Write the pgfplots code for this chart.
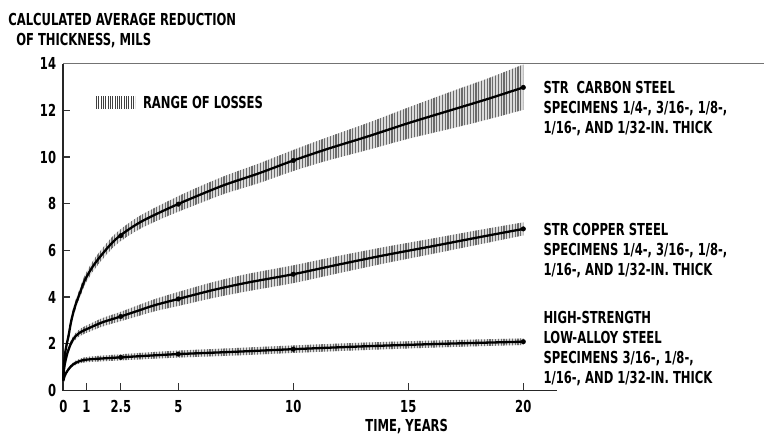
\documentclass[border=0pt]{standalone}
\usepackage{pgfplots}
\pgfplotsset{compat=1.18}
\usepackage{pgfplotstable}
\usepgfplotslibrary{fillbetween}
\usetikzlibrary{patterns.meta}
\usepackage{fontspec}
\setmainfont{DejaVu Sans Condensed}
\newfontfamily\labfam{DejaVu Sans Condensed Bold}[FakeStretch=0.78]
\newcommand\lab{\labfam\fontsize{16.5bp}{20bp}\selectfont}

\pgfplotstableread{
t m lo hi
0 0.45 0.40 0.50
0.03 1.10 1.00 1.20
0.08 1.60 1.45 1.75
0.15 2.00 1.82 2.18
0.22 2.30 2.10 2.50
0.35 3.00 2.80 3.20
0.51 3.60 3.40 3.80
0.75 4.25 4.05 4.45
0.94 4.73 4.52 4.94
1.38 5.45 5.22 5.68
2.25 6.45 6.20 6.70
3.26 7.16 6.88 7.44
4.42 7.73 7.42 8.04
5.5 8.20 7.85 8.55
7 8.80 8.42 9.18
8.5 9.30 8.88 9.72
10 9.85 9.40 10.30
11.5 10.35 9.85 10.85
13.3 10.90 10.32 11.48
15 11.45 10.78 12.12
17 12.05 11.25 12.85
18.5 12.50 11.62 13.38
20 12.98 12.02 13.96
}\carbon

\pgfplotstableread{
t m lo hi
0 0.45 0.42 0.48
0.03 0.90 0.84 0.96
0.08 1.20 1.12 1.28
0.15 1.50 1.40 1.60
0.22 1.73 1.61 1.85
0.35 2.05 1.92 2.18
0.51 2.30 2.16 2.44
0.75 2.50 2.35 2.65
1.09 2.66 2.50 2.82
1.7 2.92 2.74 3.10
2.47 3.16 2.96 3.36
3.2 3.40 3.17 3.63
4 3.66 3.40 3.92
5 3.92 3.62 4.22
6.5 4.30 3.96 4.64
8 4.62 4.25 4.99
10 4.98 4.60 5.36
12 5.40 5.03 5.77
14 5.80 5.45 6.15
16 6.17 5.84 6.50
18 6.55 6.24 6.86
20 6.92 6.64 7.20
}\copper

\pgfplotstableread{
t m lo hi
0 0.40 0.38 0.42
0.05 0.60 0.56 0.64
0.12 0.75 0.70 0.80
0.22 0.90 0.83 0.97
0.35 1.05 0.97 1.13
0.51 1.17 1.08 1.26
0.75 1.27 1.17 1.37
1 1.32 1.21 1.43
1.5 1.36 1.24 1.48
2.5 1.42 1.29 1.55
3.5 1.48 1.34 1.62
5 1.56 1.41 1.71
7.5 1.66 1.50 1.82
10 1.77 1.61 1.93
13.3 1.90 1.74 2.06
16.5 2.00 1.85 2.15
20 2.09 1.95 2.23
}\hsla

\pgfplotstableread{
t c cu h
2.5 6.63 3.17 1.42
5 7.98 3.92 1.56
10 9.85 4.98 1.77
20 12.98 6.92 2.09
}\marks

\tikzset{
  band/.style={draw=none, pattern={Lines[angle=90,distance=2.8bp,line width=1.1bp]}, pattern color=black!58},
  bandbg/.style={draw=none, fill=black!14},
}

\begin{document}
\begin{tikzpicture}
\begin{axis}[
  at={(0,0)}, anchor=south west,
  x=23bp, y=23.35bp,
  xmin=0, xmax=21.46, ymin=0, ymax=14,
  axis x line=bottom, axis y line=left,
  axis line style={-, line width=1.6bp, black!85},
  tick align=inside, major tick length=7bp,
  tick style={line width=1.2bp, black!80},
  xtick={0,1,2.5,5,10,15,20}, xticklabels={0,1,2.5,5,10,15,20},
  ytick={0,2,...,14},
  clip=false,
  /pgf/number format/assume math mode=true,
  every tick label/.append style={font=\lab},
  xticklabel style={anchor=north, inner sep=0pt, yshift=-10bp},
  yticklabel style={anchor=east, inner sep=0pt, xshift=-7bp},
]
\addplot[name path=cu, draw=none, smooth] table[x=t,y=hi]{\carbon};
\addplot[name path=cl, draw=none, smooth] table[x=t,y=lo]{\carbon};
\addplot[bandbg] fill between[of=cu and cl];
\addplot[band] fill between[of=cu and cl];
\addplot[name path=pu, draw=none, smooth] table[x=t,y=hi]{\copper};
\addplot[name path=pl, draw=none, smooth] table[x=t,y=lo]{\copper};
\addplot[bandbg] fill between[of=pu and pl];
\addplot[band] fill between[of=pu and pl];
\addplot[name path=hu, draw=none, smooth] table[x=t,y=hi]{\hsla};
\addplot[name path=hl, draw=none, smooth] table[x=t,y=lo]{\hsla};
\addplot[bandbg] fill between[of=hu and hl];
\addplot[band] fill between[of=hu and hl];

\addplot[black, line width=2.3bp, smooth] table[x=t,y=m]{\carbon};
\addplot[black, line width=2.3bp, smooth] table[x=t,y=m]{\copper};
\addplot[black, line width=2.3bp, smooth] table[x=t,y=m]{\hsla};
\addplot[only marks, mark=*, mark size=2.3bp, black] table[x=t,y=c]{\marks};
\addplot[only marks, mark=*, mark size=2.3bp, black] table[x=t,y=cu]{\marks};
\addplot[only marks, mark=*, mark size=2.3bp, black] table[x=t,y=h]{\marks};

\draw[line width=1.2bp, black!55] (axis cs:0,14) -- (axis cs:30.48,14);

\fill[pattern={Lines[angle=90,distance=2.3bp,line width=1bp]}, pattern color=black!75] (axis cs:1.42,12.06) rectangle (axis cs:3.12,12.6);
\node[anchor=west, inner sep=0pt, font=\lab] at (axis cs:3.46,12.33) {RANGE OF LOSSES};
\node[anchor=north, inner sep=0pt, font=\lab] at (axis cs:14.93,-1.22) {TIME, YEARS};

\node[anchor=north west, align=left, inner sep=0pt, font=\lab] at (axis cs:-2.40,16.18) {CALCULATED AVERAGE REDUCTION\\\hspace*{8bp}OF THICKNESS, MILS};
\node[anchor=north west, align=left, inner sep=0pt, font=\lab] at (axis cs:20.87,13.25) {STR\ \ CARBON STEEL\\SPECIMENS 1/4-, 3/16-, 1/8-,\\1/16-, AND 1/32-IN. THICK};
\node[anchor=north west, align=left, inner sep=0pt, font=\lab] at (axis cs:20.87,7.19) {STR COPPER STEEL\\SPECIMENS 1/4-, 3/16-, 1/8-,\\1/16-, AND 1/32-IN. THICK};
\node[anchor=north west, align=left, inner sep=0pt, font=\lab] at (axis cs:20.87,3.40) {HIGH-STRENGTH\\LOW-ALLOY STEEL\\SPECIMENS 3/16-, 1/8-,\\1/16-, AND 1/32-IN. THICK};
\end{axis}
\path[use as bounding box] (-63.3bp,-46.5bp) rectangle (701.7bp,390.5bp);
\end{tikzpicture}
\end{document}
